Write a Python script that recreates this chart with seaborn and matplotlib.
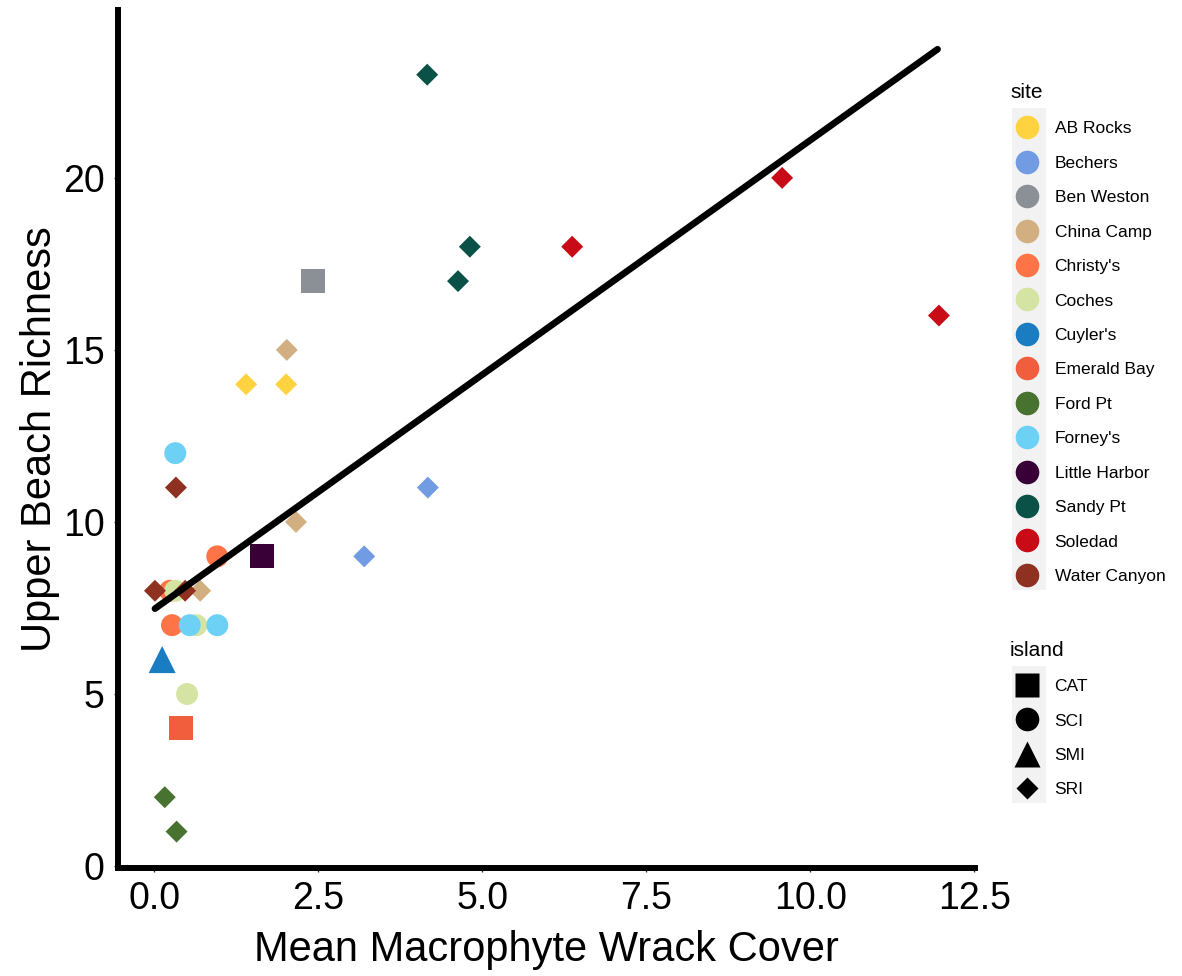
import numpy as np
import pandas as pd
import matplotlib
matplotlib.use("Agg")
import matplotlib.pyplot as plt
from matplotlib.lines import Line2D
from matplotlib.patches import Rectangle
import seaborn as sns

# ---------------- data ----------------
site = ["AB Rocks", "AB Rocks",
        "Bechers", "Bechers",
        "Ben Weston",
        "China Camp", "China Camp", "China Camp",
        "Christy's", "Christy's", "Christy's",
        "Coches", "Coches", "Coches",
        "Cuyler's",
        "Emerald Bay",
        "Ford Pt", "Ford Pt",
        "Forney's", "Forney's", "Forney's",
        "Little Harbor",
        "Sandy Pt", "Sandy Pt", "Sandy Pt",
        "Soledad", "Soledad", "Soledad",
        "Water Canyon", "Water Canyon", "Water Canyon"]
island = ["SRI", "SRI",
          "SRI", "SRI",
          "CAT",
          "SRI", "SRI", "SRI",
          "SCI", "SCI", "SCI",
          "SCI", "SCI", "SCI",
          "SMI",
          "CAT",
          "SRI", "SRI",
          "SCI", "SCI", "SCI",
          "CAT",
          "SRI", "SRI", "SRI",
          "SRI", "SRI", "SRI",
          "SRI", "SRI", "SRI"]
wrack_cover = [1.40, 2.01,
               4.17, 3.20,
               2.42,
               2.02, 2.16, 0.70,
               0.96, 0.24, 0.27,
               0.32, 0.64, 0.50,
               0.12,
               0.41,
               0.16, 0.34,
               0.32, 0.54, 0.96,
               1.64,
               4.16, 4.81, 4.63,
               9.57, 6.37, 11.96,
               0.33, 0.01, 0.47]
richness = [14, 14,
            11, 9,
            17,
            15, 10, 8,
            9, 8, 7,
            8, 7, 5,
            6,
            4,
            2, 1,
            12, 7, 7,
            9,
            23, 18, 17,
            20, 18, 16,
            11, 8, 8]

# fitted trend line end points
fit_x = [0.01, 11.94]
fit_y = [7.48, 23.74]

site_order = ["AB Rocks", "Bechers", "Ben Weston", "China Camp", "Christy's",
              "Coches", "Cuyler's", "Emerald Bay", "Ford Pt", "Forney's",
              "Little Harbor", "Sandy Pt", "Soledad", "Water Canyon"]
site_colors = ["#FFD23F", "#719BE2", "#8A9096", "#D2AF81", "#FF7446",
               "#D5E4A3", "#1A7CC1", "#F05E3E", "#47722F", "#6DD1F6",
               "#380037", "#0A5247", "#C80B17", "#8F3121"]
island_order = ["CAT", "SCI", "SMI", "SRI"]
island_markers = ["s", "o", "^", "D"]

x_ticks = [0.0, 2.5, 5.0, 7.5, 10.0, 12.5]
x_ticklabels = ["0.0", "2.5", "5.0", "7.5", "10.0", "12.5"]
y_ticks = [0, 5, 10, 15, 20]
y_ticklabels = ["0", "5", "10", "15", "20"]

# ---------------- figure ----------------
sns.set_style("white")
plt.rcParams["font.family"] = ["Liberation Sans", "DejaVu Sans"]
plt.rcParams["text.color"] = "black"
plt.rcParams["axes.labelcolor"] = "black"

W, H = 1182, 976
fig = plt.figure(figsize=(W / 100, H / 100), dpi=100)
ax = fig.add_axes([118 / W, 1 - 868 / H, (975 - 118) / W, (868 - 10) / H])

df = pd.DataFrame({"site": site, "island": island,
                   "cover": wrack_cover, "richness": richness})

palette = dict(zip(site_order, site_colors))
markers = dict(zip(island_order, island_markers))
sizes = {"CAT": 300, "SCI": 250, "SMI": 380, "SRI": 125}

sns.scatterplot(data=df, x="cover", y="richness", hue="site", hue_order=site_order,
                palette=palette, style="island", style_order=island_order,
                markers=markers, size="island", sizes=sizes,
                linewidth=0, edgecolor="none", legend=False, ax=ax, zorder=2)

sns.lineplot(x=fit_x, y=fit_y, color="black", lw=4.8, ax=ax, zorder=3)

ax.set_xlim(-0.553, 12.51)
ax.set_ylim(-0.058, 24.88)
ax.set_xticks(x_ticks)
ax.set_xticklabels(x_ticklabels)
ax.set_yticks(y_ticks)
ax.set_yticklabels(y_ticklabels)
ax.tick_params(axis="both", which="major", labelsize=27, length=2.6, width=1.0,
               color="#333333", labelcolor="black", pad=7, bottom=True, left=True)

for s in ["top", "right"]:
    ax.spines[s].set_visible(False)
for s in ["left", "bottom"]:
    ax.spines[s].set_linewidth(4.3)
    ax.spines[s].set_color("black")

ax.set_xlabel("Mean Macrophyte Wrack Cover", fontsize=30, labelpad=9)
ax.set_ylabel("Upper Beach Richness", fontsize=30, labelpad=2)
ax.grid(False)

# ---------------- legends ----------------
key_bg = "#F2F2F2"
fig.add_artist(Rectangle((1012 / W, 1 - 590 / H), 34 / W, (590 - 108) / H,
                         transform=fig.transFigure, facecolor=key_bg,
                         edgecolor="none", zorder=0))
fig.add_artist(Rectangle((1012 / W, 1 - 803 / H), 34 / W, (803 - 666) / H,
                         transform=fig.transFigure, facecolor=key_bg,
                         edgecolor="none", zorder=0))

site_handles = [Line2D([], [], ls="", marker="o", ms=17, mfc=c, mec="none")
                for c in site_colors]
leg1 = fig.legend(site_handles, site_order, title="site", loc="upper left",
                  bbox_to_anchor=(1010 / W, 1 - 83 / H), frameon=False,
                  fontsize=12.5, title_fontsize=15, alignment="left",
                  handlelength=1.95, handletextpad=0.62, labelspacing=1.11,
                  borderpad=0, borderaxespad=0)

isl_ms = {"CAT": 17, "SCI": 17, "SMI": 19, "SRI": 11.5}
island_handles = [Line2D([], [], ls="", marker=m, ms=isl_ms[k], mfc="black", mec="none")
                  for k, m in zip(island_order, island_markers)]
leg2 = fig.legend(island_handles, island_order, title="island", loc="upper left",
                  bbox_to_anchor=(1010 / W, 1 - 641 / H), frameon=False,
                  fontsize=12.5, title_fontsize=15, alignment="left",
                  handlelength=1.95, handletextpad=0.62, labelspacing=1.1,
                  borderpad=0, borderaxespad=0)

fig.savefig("out.png", dpi=100)
